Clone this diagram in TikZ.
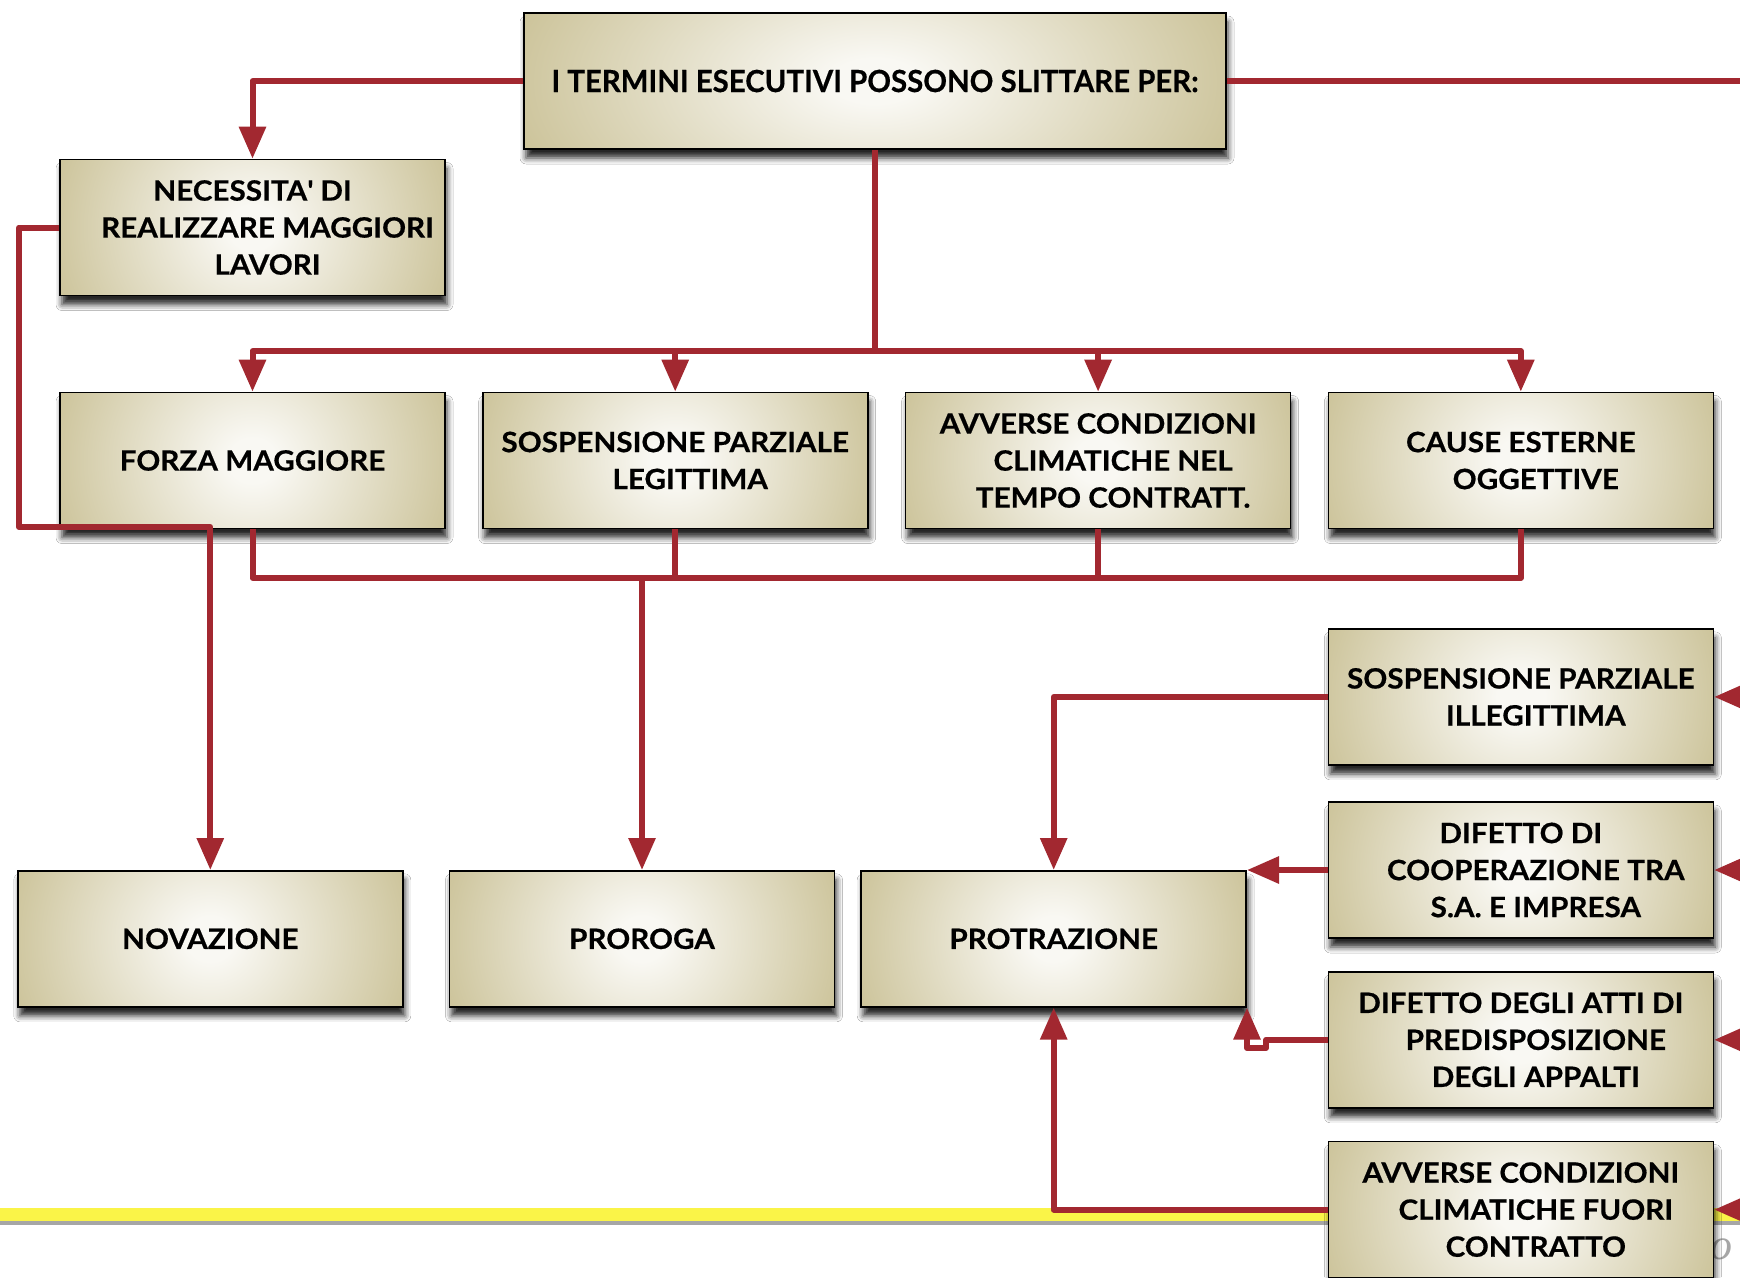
\documentclass[tikz,border=0pt]{standalone}
\usepackage{graphicx}
\usepackage{fontspec}
\setmainfont{Lato}[BoldFeatures={FakeStretch=1.06, FakeBold=0.5}]
\newfontfamily\markfont{Liberation Serif}
\usetikzlibrary{arrows.meta,calc,shadows.blur}

\definecolor{wire}{RGB}{162,40,48}
\definecolor{plateE}{RGB}{185,173,116}
\definecolor{plateC}{RGB}{249,248,243}
\definecolor{band}{RGB}{250,244,72}

% brass plate gradient: light centre fading to olive at the sides
\pgfdeclareradialshading{plate}{\pgfpoint{0bp}{0bp}}{%
  color(0bp)=(plateC); color(3bp)=(plateC); color(36bp)=(plateE); color(50bp)=(plateE)}

% indentation of the continuation lines inside the plates
\newcommand\indl{\hspace*{30pt}}

\tikzset{
  plate/.style={draw=black, line width=1.6pt, fill=plateE,
    minimum width=385pt, minimum height=136pt, inner sep=0pt,
    align=center, text=black,
    font=\bfseries\fontsize{28}{37}\selectfont,
    blur shadow={shadow xshift=2pt, shadow yshift=-9pt,
      shadow blur radius=6pt, shadow opacity=85},
    path picture={\shade[shading=plate]
      ($(path picture bounding box.south west)+(-6pt,-120pt)$) rectangle
      ($(path picture bounding box.north east)+(6pt,120pt)$);}},
  link/.style={draw=wire, line width=6pt, line join=round},
  arr/.style={-{Triangle[length=32pt,width=26pt]}}
}

\begin{document}
\begin{tikzpicture}[x=1pt, y=-1pt]
  \useasboundingbox (0,0) rectangle (1740,1277);
  \fill[white] (0,0) rectangle (1740,1277);
  \clip (0,0) rectangle (1740,1277);

  % footer band
  \fill[black!35] (0,1220) rectangle (1740,1225);
  \fill[band] (0,1208) rectangle (1740,1221);
  \node[text=black!35, font=\markfont\itshape\fontsize{44}{44}\selectfont]
    (mark) at (1721,1249) {o};

  % plates
  \node[plate, minimum width=702pt] (top) at (875,81)
    {\fontsize{30.5}{37}\selectfont\resizebox{647pt}{\height}{I TERMINI ESECUTIVI POSSONO SLITTARE PER:}};
  \node[plate] (nec) at (252.5,227.5)
    {NECESSITA\textquotesingle{} DI\\\indl REALIZZARE MAGGIORI\\\indl LAVORI};

  \node[plate] (forza) at (252.5,460.5) {FORZA MAGGIORE};
  \node[plate] (sospl) at (675.2,460.5) {SOSPENSIONE PARZIALE\\\indl LEGITTIMA};
  \node[plate] (avvt)  at (1098.1,460.5) {AVVERSE CONDIZIONI\\\indl CLIMATICHE NEL\\\indl TEMPO CONTRATT.};
  \node[plate] (cause) at (1520.8,460.5) {CAUSE ESTERNE\\\indl OGGETTIVE};

  \node[plate] (sospi) at (1520.8,696.9) {SOSPENSIONE PARZIALE\\\indl ILLEGITTIMA};
  \node[plate] (difc)  at (1520.8,870.0) {DIFETTO DI\\\indl COOPERAZIONE TRA\\\indl S.A. E IMPRESA};
  \node[plate] (difa)  at (1520.8,1039.8) {DIFETTO DEGLI ATTI DI\\\indl PREDISPOSIZIONE\\\indl DEGLI APPALTI};
  \node[plate] (avvf)  at (1520.8,1209.6) {AVVERSE CONDIZIONI\\\indl CLIMATICHE FUORI\\\indl CONTRATTO};

  \node[plate] (nov)    at (210.3,938.8) {NOVAZIONE};
  \node[plate] (proroga) at (642.0,938.8) {PROROGA};
  \node[plate] (protr)  at (1053.7,938.8) {PROTRAZIONE};

  % junction points and free ends
  \coordinate (hub)  at (875,351);
  \coordinate (bus)  at (642,578);
  \coordinate (kink) at (19,527);
  \coordinate (jog)  at (1266,1048);
  \coordinate (eTop) at (1770,81);
  \coordinate (e1) at (1790,696.9);
  \coordinate (e2) at (1790,870.0);
  \coordinate (e3) at (1790,1039.8);
  \coordinate (e4) at (1790,1209.6);

  % connectors from the title plate
  \draw[link,arr] (top.west) -| (nec.north);
  \draw[link] (top.east) -- (eTop);
  \draw[link] (top.south) -- (hub);
  \draw[link,arr] (hub) -| (forza.north);
  \draw[link,arr] (hub) -| (sospl.north);
  \draw[link,arr] (hub) -| (avvt.north);
  \draw[link,arr] (hub) -| (cause.north);

  % novazione
  \draw[link,arr] (nec.west) -| (kink) -| (nov.north);

  % proroga
  \draw[link] (forza.south) |- (bus);
  \draw[link] (sospl.south) |- (bus);
  \draw[link] (avvt.south) |- (bus);
  \draw[link] (cause.south) |- (bus);
  \draw[link,arr] (bus) -- (proroga.north);

  % protrazione
  \draw[link,arr] (sospi.west) -| (protr.north);
  \draw[link,arr] (difc.west) -- (protr.east |- difc.west);
  \draw[link,arr] (difa.west) -- (difa.west -| jog) -- (jog)
    -- (protr.south east |- jog) -- (protr.south east);
  \draw[link,arr] (avvf.west) -| (protr.south);

  % incoming arrows on the right margin
  \draw[link,arr] (e1) -- (sospi.east);
  \draw[link,arr] (e2) -- (difc.east);
  \draw[link,arr] (e3) -- (difa.east);
  \draw[link,arr] (e4) -- (avvf.east);
\end{tikzpicture}
\end{document}
